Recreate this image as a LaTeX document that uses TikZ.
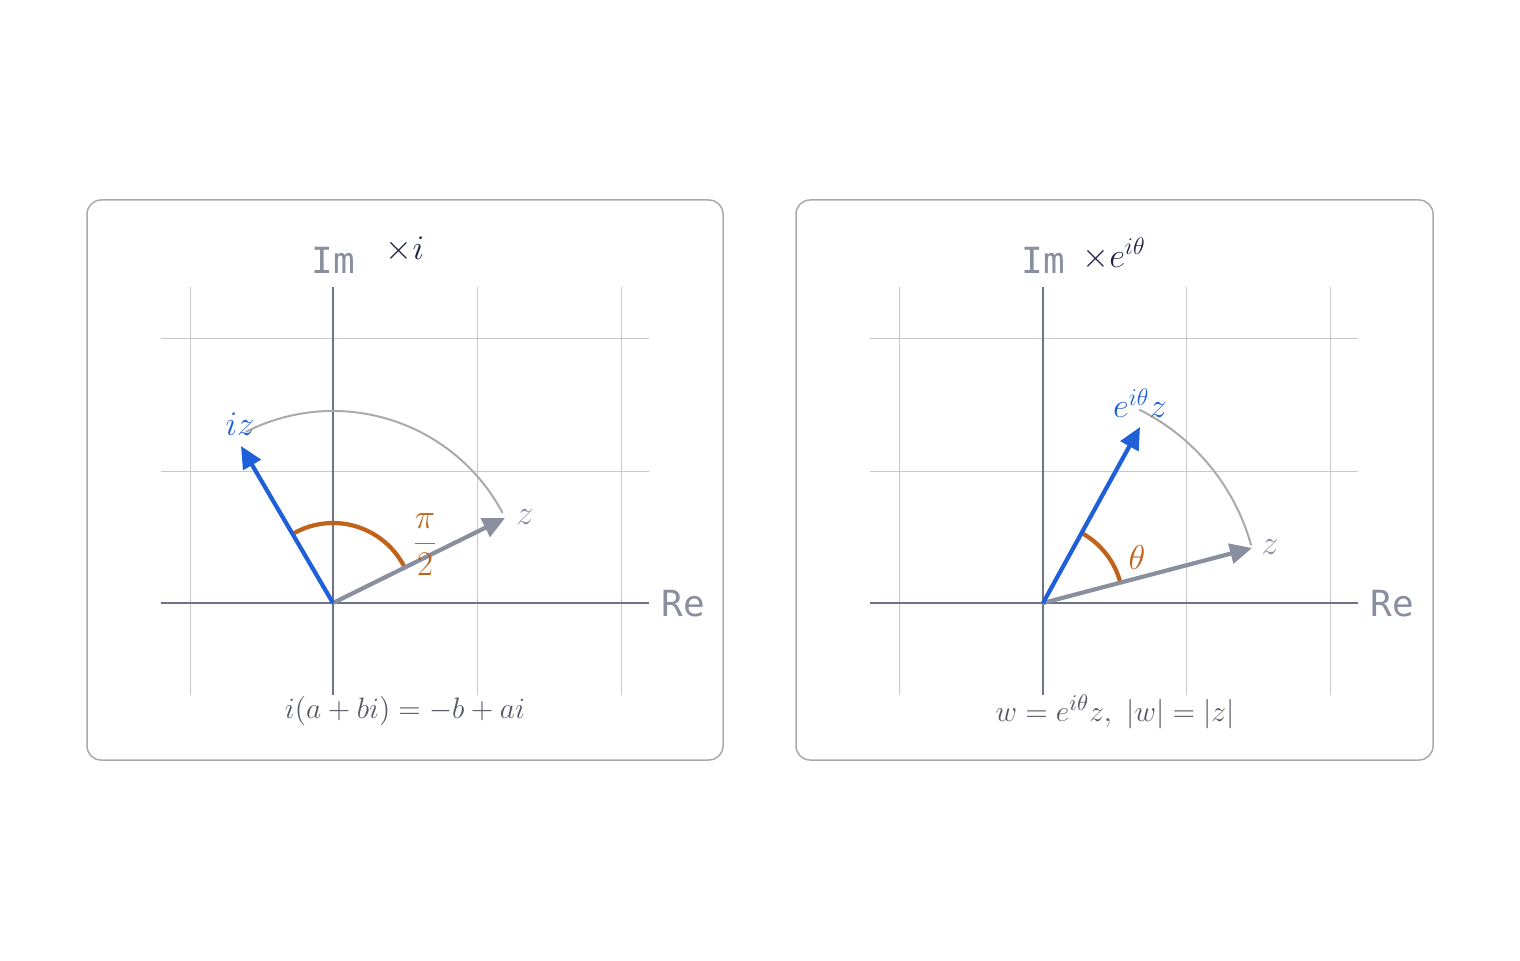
\documentclass[tikz,border=0pt]{standalone}
\usepackage{amsmath}
\usepackage{fontspec}
\newfontfamily\monof{DejaVu Sans Mono}
\usetikzlibrary{arrows.meta,calc}
\definecolor{vblue}{RGB}{31,95,216}
\definecolor{vgray}{RGB}{138,143,160}
\definecolor{aorange}{RGB}{192,98,26}
\definecolor{axisc}{RGB}{110,115,135}
\definecolor{gridc}{RGB}{200,200,200}
\definecolor{arcg}{RGB}{170,170,170}
\definecolor{borderc}{RGB}{170,170,170}
\definecolor{formc}{RGB}{85,88,100}
\definecolor{navy}{RGB}{30,35,70}
\tikzset{
  panel/.style={draw=borderc, line width=0.75pt, rounded corners=7pt},
  gridline/.style={draw=gridc, line width=0.5pt},
  axisline/.style={draw=axisc, line width=1.1pt},
  vecz/.style={draw=vgray, line width=2.1pt, -{Triangle[length=11pt,width=10pt]}},
  vecw/.style={draw=vblue, line width=2.1pt, -{Triangle[length=11pt,width=10pt]}},
  rotarc/.style={draw=arcg, line width=1pt},
  angarc/.style={draw=aorange, line width=2.1pt},
  axlabel/.style={text=vgray, font=\monof\fontsize{18}{20}\selectfont, inner sep=0pt},
  mlabel/.style={font=\fontsize{16}{19}\selectfont, inner sep=0pt},
  flabel/.style={font=\fontsize{15.5}{18}\selectfont, inner sep=0pt, scale=1.025, transform shape},
  blabel/.style={font=\fontsize{18}{21}\selectfont, inner sep=0pt},
}
\begin{document}
\begin{tikzpicture}[x=0.5pt,y=0.5pt]
\useasboundingbox (0,0) rectangle (1520,960);
% ---------- left panel ----------
\draw[panel] (87,200) rectangle (723,760);
\foreach \gx in {190,477,621} \draw[gridline] (\gx,265) -- (\gx,673);
\foreach \gy in {621,489} \draw[gridline] (161,\gy) -- (649,\gy);
\coordinate (O1) at (333,357);
\coordinate (xl1) at (161,357); \coordinate (xr1) at (649,357);
\coordinate (yb1) at (333,265); \coordinate (yt1) at (333,673);
\draw[axisline] (xl1) -- (xr1);
\draw[axisline] (yb1) -- (yt1);
\node[axlabel] (re1) at (683,356) {Re};
\node[axlabel] (im1) at (333,700) {Im};
\node[blabel, text=navy] (mul1) at (405,710) {$\times i$};
\draw[rotarc] (O1) ++(28:192) arc[start angle=28, end angle=117, radius=192];
\draw[angarc] (O1) ++(27:80) arc[start angle=27, end angle=119, radius=80];
\coordinate (z1) at ($(O1)+(172,85)$);
\coordinate (iz1) at ($(O1)+(-92,157)$);
\draw[vecz] (O1) -- (z1);
\draw[vecw] (O1) -- (iz1);
\node[mlabel, text=aorange] (pi2) at (425,415) {$\dfrac{\pi}{2}$};
\node[blabel, text=vgray] (zl1) at (525,443) {$z$};
\node[blabel, text=vblue] (izl) at (240,536) {$iz$};
\node[flabel, text=formc] (f1) at (405,249) {$i(a+bi)=-b+ai$};
% ---------- right panel ----------
\draw[panel] (796,200) rectangle (1433,760);
\foreach \gx in {899,1186,1330} \draw[gridline] (\gx,265) -- (\gx,673);
\foreach \gy in {621,489} \draw[gridline] (870,\gy) -- (1358,\gy);
\coordinate (O2) at (1043,357);
\coordinate (xl2) at (870,357); \coordinate (xr2) at (1358,357);
\coordinate (yb2) at (1043,265); \coordinate (yt2) at (1043,673);
\draw[axisline] (xl2) -- (xr2);
\draw[axisline] (yb2) -- (yt2);
\node[axlabel] (re2) at (1392,356) {Re};
\node[axlabel] (im2) at (1043,700) {Im};
\node[blabel, text=navy] (mul2) at (1114,706) {$\times e^{i\theta}$};
\draw[rotarc] (O2) ++(15.5:216) arc[start angle=15.5, end angle=63.5, radius=216];
\draw[angarc] (O2) ++(15:80) arc[start angle=15, end angle=62, radius=80];
\coordinate (z2) at ($(O2)+(209,55)$);
\coordinate (w2) at ($(O2)+(97,176)$);
\draw[vecz] (O2) -- (z2);
\draw[vecw] (O2) -- (w2);
\node[mlabel, text=aorange] (th) at (1137,403) {$\theta$};
\node[blabel, text=vgray] (zl2) at (1270,413) {$z$};
\node[blabel, text=vblue] (wl) at (1140,557) {$e^{i\theta}z$};
\node[flabel, text=formc] (f2) at (1115,248) {$w=e^{i\theta}z,\ |w|=|z|$};
\end{tikzpicture}
\end{document}
